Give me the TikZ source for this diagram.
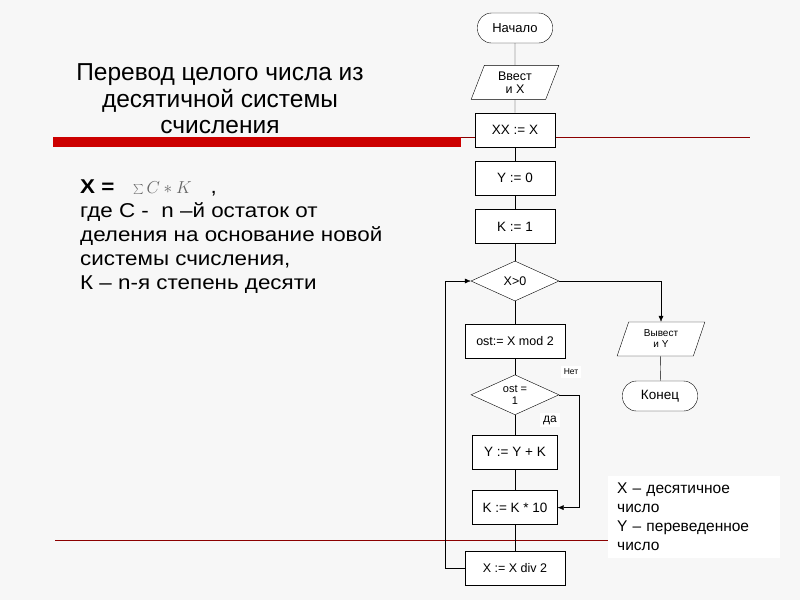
\documentclass[tikz,border=0pt]{standalone}
\usepackage{fontspec}
\setmainfont{Liberation Sans}
\newfontfamily\widefont[FakeStretch=1.12]{Liberation Sans}
\usepackage{xcolor}
\usetikzlibrary{arrows.meta,positioning,shapes.geometric}

\begin{document}
\begin{tikzpicture}[
    x=1pt, y=1pt,
    node distance=14pt,
    term/.style={draw, rounded corners=14pt, minimum width=75pt, minimum height=30pt,
                 fill=white, font=\fontsize{13}{15}\selectfont},
    io/.style={draw, trapezium, trapezium left angle=72, trapezium right angle=108,
               trapezium stretches=true, minimum width=88pt, minimum height=34pt,
               inner sep=1pt, align=center, fill=white, font=\fontsize{12.5}{13}\selectfont},
    proc/.style={draw, minimum width=85pt, minimum height=34pt, fill=white,
                 font=\fontsize{13.5}{14}\selectfont},
    wide/.style={minimum width=100pt},
    cond/.style={draw, diamond, aspect=2.2, minimum width=88pt, minimum height=40pt,
                 inner sep=0pt, align=center, fill=white, font=\fontsize{12.5}{13}\selectfont},
    arr/.style={-{Latex[length=6pt, width=5pt]}},
    lbl/.style={fill=white, inner sep=3pt},
]
% background and slide rules
\fill[black!3] (0,0) rectangle (800,-600);
\useasboundingbox (0,0) rectangle (800,-600);
\draw[red!55!black, line width=0.8pt] (461,-137) -- (750,-137);
\fill[red!80!black] (53,-137) rectangle (461,-147);
\draw[red!55!black, line width=0.8pt] (55,-540) -- (760,-540);

% slide text
\node[align=center, font=\fontsize{24.5}{26.5}\selectfont] (title) at (220,-99)
    {Перевод целого числа из\\десятичной системы\\счисления};
\node[anchor=north west, align=left, inner sep=0pt, font=\widefont\fontsize{20}{24}\selectfont] (expl) at (80,-180)
    {\textbf{X =}\ \ \ {\color{black!60}\fontsize{16}{16}\selectfont$\sum C*K$}\ \ \ ,\\
     где C -\ \ n –й остаток от\\
     деления на основание новой\\
     системы счисления,\\
     К – n-я степень десяти};

% flowchart
\node[term] (start) at (515,-28) {Начало};
\node[io, below=22pt of start] (inX) {Ввест\\и X};
\node[proc, minimum width=80pt, below=13pt of inX] (xx) {XX := X};
\node[proc, minimum width=80pt, below=of xx] (y0) {Y := 0};
\node[proc, minimum width=80pt, below=of y0] (k1) {K := 1};
\node[cond, below=17pt of k1] (xpos) {X>0};
\node[proc, wide, font=\fontsize{12.5}{14}\selectfont, below=23pt of xpos] (mod) {ost:= X mod 2};
\node[cond, font=\fontsize{11}{12}\selectfont, below=16pt of mod] (odd) {ost =\\1};
\node[proc, below=20pt of odd] (addk) {Y := Y + K};
\node[proc, below=21pt of addk] (mulk) {K := K * 10};
\node[proc, wide, font=\fontsize{12.5}{14}\selectfont, below=26pt of mulk] (half) {X := X div 2};
\node[io, font=\fontsize{10}{11}\selectfont] (outY) at (661,-339) {Вывест\\и Y};
\node[term, font=\fontsize{13.5}{15}\selectfont] (stop) at (660,-396) {Конец};

\node[lbl, font=\fontsize{8.5}{10}\selectfont] (no) at (571,-372) {Нет};
\node[lbl, font=\fontsize{12}{13}\selectfont] (yes) at (550,-420) {да};

\node[fill=white, text width=154pt, inner xsep=9pt, inner ysep=7pt, align=left,
      font=\fontsize{15.5}{19}\selectfont, anchor=north west] (legend) at (608,-476)
    {X – десятичное\\число\\Y – переведенное\\число};

\draw (start) -- (inX);
\draw (inX) -- (xx);
\draw (xx) -- (y0);
\draw (y0) -- (k1);
\draw (k1) -- (xpos);
\draw (xpos) -- (mod);
\draw (mod) -- (odd);
\draw (odd) -- (addk);
\draw (addk) -- (mulk);
\draw (mulk) -- (half);
\draw[arr] (xpos.east) -| (outY.north);
\draw (outY) -- (stop);
\draw[arr] (odd.east) -- ++(20,0) |- (mulk.east);
\draw[arr] (half.west) -- ++(-20,0) |- (xpos.west);
\end{tikzpicture}
\end{document}
